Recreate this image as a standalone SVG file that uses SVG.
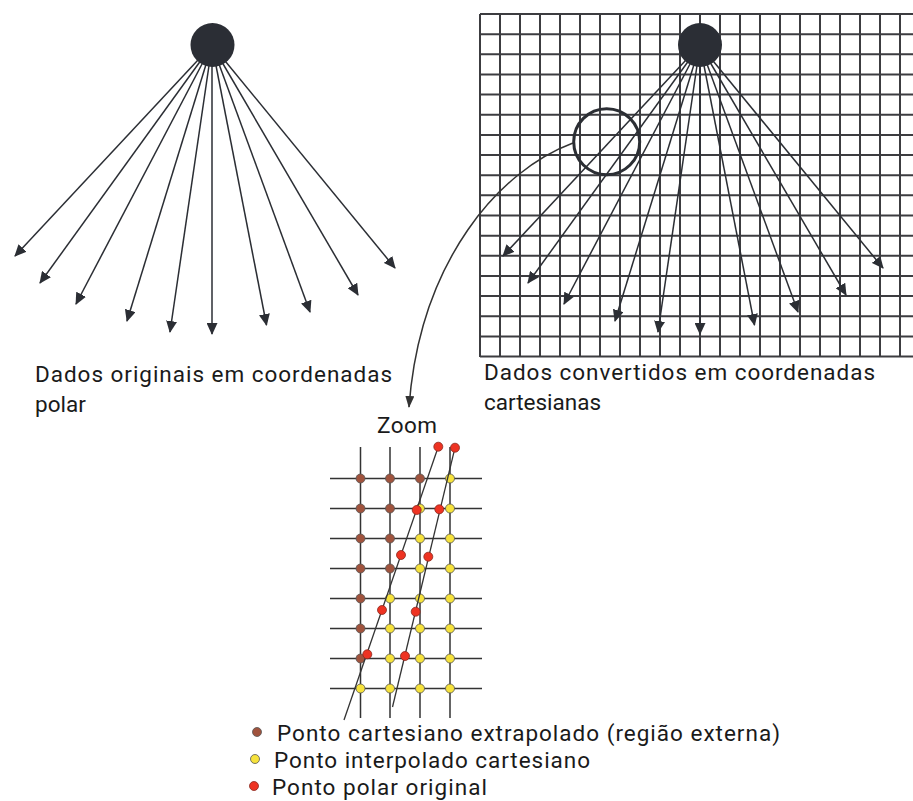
<svg xmlns="http://www.w3.org/2000/svg" width="913" height="801" viewBox="0 0 913 801">
<style>
.ln{stroke:#2b2e34;stroke-width:1.5;fill:none}
.grid{stroke:#3c3c40;stroke-width:2;fill:none}
.ig{stroke:#333;stroke-width:1.5;fill:none}
.hub{fill:#2b2e35}
.t{font-family:Roboto,'Liberation Sans',sans-serif;font-size:22.5px;fill:#1a1a1a}
.br{fill:#a0533d;stroke:#555;stroke-width:0.8}
.ye{fill:#f6e23c;stroke:#555;stroke-width:0.8}
.rd{fill:#ee3322;stroke:#8a2a20;stroke-width:0.8}
</style>
<defs>
<marker id="ah" viewBox="0 0 12 11" refX="11" refY="5.5" markerWidth="12" markerHeight="11" markerUnits="userSpaceOnUse" orient="auto">
<path d="M0,0 L12,5.5 L0,11 Z" fill="#2b2e34"/>
</marker>
<marker id="ah2" viewBox="0 0 12 9" refX="11" refY="4.5" markerWidth="12" markerHeight="9" markerUnits="userSpaceOnUse" orient="auto">
<path d="M0,0 L12,4.5 L0,9 Z" fill="#333"/>
</marker>
</defs>

<g id="cartesian-grid">
<path class="grid" d="M480 14V357 M500 14V357 M520 14V357 M540 14V357 M560 14V357 M580 14V357 M600 14V357 M620 14V357 M640 14V357 M660 14V357 M680 14V357 M700 14V357 M720 14V357 M740 14V357 M760 14V357 M780 14V357 M800 14V357 M820 14V357 M840 14V357 M860 14V357 M880 14V357 M900 14V357"/>
<path class="grid" d="M480 14H913 M480 34.15H913 M480 54.3H913 M480 74.45H913 M480 94.6H913 M480 114.75H913 M480 134.9H913 M480 155.05H913 M480 175.2H913 M480 195.35H913 M480 215.5H913 M480 235.65H913 M480 255.8H913 M480 275.95H913 M480 296.1H913 M480 316.25H913 M480 336.4H913 M480 356.55H913"/>
</g>

<g id="connectors">
<g id="polar-rays">
<line class="ln" x1="212" y1="45" x2="15" y2="256" marker-end="url(#ah)"/>
<line class="ln" x1="212" y1="45" x2="40" y2="283" marker-end="url(#ah)"/>
<line class="ln" x1="212" y1="45" x2="76" y2="304" marker-end="url(#ah)"/>
<line class="ln" x1="212" y1="45" x2="127" y2="321" marker-end="url(#ah)"/>
<line class="ln" x1="212" y1="45" x2="170" y2="332" marker-end="url(#ah)"/>
<line class="ln" x1="212" y1="45" x2="212" y2="334" marker-end="url(#ah)" stroke-width="2" stroke="#55585e"/>
<line class="ln" x1="212" y1="45" x2="266.5" y2="325" marker-end="url(#ah)"/>
<line class="ln" x1="212" y1="45" x2="310" y2="312" marker-end="url(#ah)"/>
<line class="ln" x1="212" y1="45" x2="358" y2="295" marker-end="url(#ah)"/>
<line class="ln" x1="212" y1="45" x2="395" y2="268" marker-end="url(#ah)"/>
</g>
<g id="cartesian-rays">
<line class="ln" x1="700" y1="45" x2="503" y2="256" marker-end="url(#ah)"/>
<line class="ln" x1="700" y1="45" x2="528" y2="283" marker-end="url(#ah)"/>
<line class="ln" x1="700" y1="45" x2="564" y2="304" marker-end="url(#ah)"/>
<line class="ln" x1="700" y1="45" x2="615" y2="321" marker-end="url(#ah)"/>
<line class="ln" x1="700" y1="45" x2="658" y2="332" marker-end="url(#ah)"/>
<line class="ln" x1="700" y1="45" x2="700" y2="334" marker-end="url(#ah)"/>
<line class="ln" x1="700" y1="45" x2="754.5" y2="325" marker-end="url(#ah)"/>
<line class="ln" x1="700" y1="45" x2="798" y2="312" marker-end="url(#ah)"/>
<line class="ln" x1="700" y1="45" x2="846" y2="295" marker-end="url(#ah)"/>
<line class="ln" x1="700" y1="45" x2="883" y2="268" marker-end="url(#ah)"/>
</g>
<path id="zoom-link" d="M573 143 C500 170, 420 260, 409 407" stroke="#333" stroke-width="1.5" fill="none" marker-end="url(#ah2)"/>
</g>

<g id="polar-source"><circle class="hub" cx="212.5" cy="45" r="22"/></g>
<g id="cartesian-source"><circle class="hub" cx="700" cy="45" r="22"/></g>
<g id="zoom-circle"><circle cx="606.7" cy="141.7" r="33" fill="none" stroke="#2b2e34" stroke-width="3"/></g>

<g id="label-polar">
<text class="t" x="35" y="382" textLength="357">Dados originais em coordenadas</text>
<text class="t" x="35" y="412">polar</text>
</g>
<g id="label-cartesian">
<text class="t" x="484" y="380" textLength="391">Dados convertidos em coordenadas</text>
<text class="t" x="484" y="410">cartesianas</text>
</g>

<g id="zoom-inset">
<text class="t" x="377" y="433" textLength="60">Zoom</text>
<path class="ig" d="M360.5 447V718 M390 447V718 M420 447V718 M450 447V718"/>
<path class="ig" d="M330 478.5H482 M330 508.5H482 M330 538.5H482 M330 568.5H482 M330 598.5H482 M330 628.5H482 M330 658.5H482 M330 688.5H482"/>
<circle class="br" cx="360.5" cy="478.5" r="4.5"/><circle class="br" cx="390" cy="478.5" r="4.5"/><circle class="br" cx="420" cy="478.5" r="4.5"/>
<circle class="br" cx="360.5" cy="508.5" r="4.5"/><circle class="br" cx="390" cy="508.5" r="4.5"/>
<circle class="br" cx="360.5" cy="538.5" r="4.5"/><circle class="br" cx="390" cy="538.5" r="4.5"/>
<circle class="br" cx="360.5" cy="568.5" r="4.5"/><circle class="br" cx="390" cy="568.5" r="4.5"/>
<circle class="br" cx="360.5" cy="598.5" r="4.5"/><circle class="br" cx="360.5" cy="628.5" r="4.5"/><circle class="br" cx="360.5" cy="658.5" r="4.5"/>
<circle class="ye" cx="450" cy="478.5" r="4.5"/>
<circle class="ye" cx="420" cy="508.5" r="4.5"/><circle class="ye" cx="450" cy="508.5" r="4.5"/>
<circle class="ye" cx="420" cy="538.5" r="4.5"/><circle class="ye" cx="450" cy="538.5" r="4.5"/>
<circle class="ye" cx="420" cy="568.5" r="4.5"/><circle class="ye" cx="450" cy="568.5" r="4.5"/>
<circle class="ye" cx="390" cy="598.5" r="4.5"/><circle class="ye" cx="420" cy="598.5" r="4.5"/><circle class="ye" cx="450" cy="598.5" r="4.5"/>
<circle class="ye" cx="390" cy="628.5" r="4.5"/><circle class="ye" cx="420" cy="628.5" r="4.5"/><circle class="ye" cx="450" cy="628.5" r="4.5"/>
<circle class="ye" cx="390" cy="658.5" r="4.5"/><circle class="ye" cx="420" cy="658.5" r="4.5"/><circle class="ye" cx="450" cy="658.5" r="4.5"/>
<circle class="ye" cx="360.5" cy="688.5" r="4.5"/><circle class="ye" cx="390" cy="688.5" r="4.5"/><circle class="ye" cx="420" cy="688.5" r="4.5"/><circle class="ye" cx="450" cy="688.5" r="4.5"/>
<line x1="438.3" y1="446.7" x2="344" y2="720" stroke="#333" stroke-width="1.3"/>
<line x1="455" y1="447.7" x2="392.5" y2="707" stroke="#333" stroke-width="1.3"/>
<circle class="rd" cx="438.3" cy="446.7" r="4.5"/><circle class="rd" cx="455" cy="447.7" r="4.5"/>
<circle class="rd" cx="416.7" cy="510" r="4.5"/><circle class="rd" cx="439.3" cy="509.3" r="4.5"/>
<circle class="rd" cx="401" cy="555" r="4.5"/><circle class="rd" cx="428.3" cy="556.7" r="4.5"/>
<circle class="rd" cx="382" cy="610" r="4.5"/><circle class="rd" cx="415.7" cy="611.7" r="4.5"/>
<circle class="rd" cx="367.3" cy="654.3" r="4.5"/><circle class="rd" cx="405" cy="656" r="4.5"/>
</g>

<g id="legend">
<circle class="br" cx="257" cy="732" r="4.5"/>
<text class="t" x="277" y="741" textLength="503">Ponto cartesiano extrapolado (região externa)</text>
<circle class="ye" cx="255" cy="759" r="4.5"/>
<text class="t" x="274" y="768" textLength="316">Ponto interpolado cartesiano</text>
<circle class="rd" cx="254" cy="786" r="4.5"/>
<text class="t" x="272" y="795" textLength="215">Ponto polar original</text>
</g>
</svg>
